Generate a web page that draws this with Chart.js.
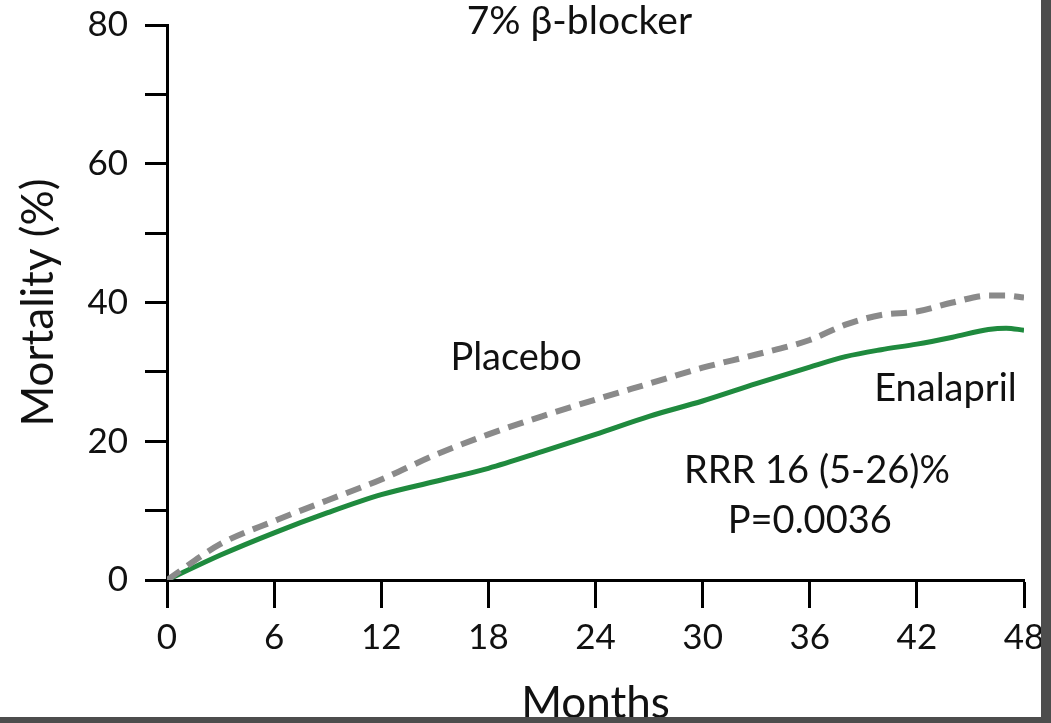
<!DOCTYPE html>
<html>
<head>
<meta charset="utf-8">
<script src="https://cdn.jsdelivr.net/npm/chart.js@4/dist/chart.umd.min.js"></script>
<style>
  html, body { margin: 0; padding: 0; background: #4d4d4d; width: 1051px; height: 723px; overflow: hidden; }
  #wrap { position: absolute; left: 0; top: 0; width: 1041px; height: 717px; background: #ffffff; overflow: hidden; }
  canvas { display: block; }
</style>
</head>
<body>
<div id="wrap"><canvas id="c" width="1048" height="723"></canvas></div>
<script>
const months = [0, 3, 6, 9, 12, 15, 18, 21, 24, 27, 30, 33, 36, 38, 40, 42, 44, 46, 47, 48];
const placebo = [0, 5.2, 8.5, 11.5, 14.5, 18.0, 21.0, 23.6, 26.0, 28.3, 30.6, 32.5, 34.6, 36.8, 38.2, 38.7, 40.0, 41.0, 41.0, 40.7];
const enalapril = [0, 3.6, 6.8, 9.7, 12.3, 14.2, 16.1, 18.5, 21.0, 23.6, 25.8, 28.3, 30.7, 32.2, 33.2, 34.0, 35.0, 36.1, 36.3, 36.0];
const xTicks = [0, 6, 12, 18, 24, 30, 36, 42, 48];
const yTicks = [0, 10, 20, 30, 40, 50, 60, 70, 80];
const yLabelled = [0, 20, 40, 60, 80];
const titleText = '7% β-blocker';
const notes = [
  { text: 'Placebo', x: 19.55, y: 32.1 },
  { text: 'Enalapril', x: 43.6, y: 27.6 },
  { text: 'RRR 16 (5-26)%', x: 36.4, y: 15.8 },
  { text: 'P=0.0036', x: 36.0, y: 8.6 }
];
const FONT = 'Lato, "Open Sans", sans-serif';

const textPlugin = {
  id: 'notes',
  afterDraw(chart) {
    const ctx = chart.ctx;
    const xs = chart.scales.x, ys = chart.scales.y;
    ctx.save();
    ctx.fillStyle = '#111';
    ctx.textAlign = 'center';
    ctx.textBaseline = 'middle';
    ctx.font = '38px ' + FONT;
    notes.forEach(n => ctx.fillText(n.text, xs.getPixelForValue(n.x), ys.getPixelForValue(n.y)));
    ctx.font = '39px ' + FONT;
    ctx.fillText(titleText, xs.getPixelForValue(23.1), 21);
    ctx.restore();
  }
};

new Chart(document.getElementById('c'), {
  type: 'line',
  data: {
    datasets: [
      {
        label: 'Placebo',
        data: months.map((m, i) => ({ x: m, y: placebo[i] })),
        borderColor: '#8a8a8a',
        borderWidth: 6,
        borderDash: [16, 9],
        pointRadius: 0,
        cubicInterpolationMode: 'monotone',
        fill: false
      },
      {
        label: 'Enalapril',
        data: months.map((m, i) => ({ x: m, y: enalapril[i] })),
        borderColor: '#1f8a3e',
        borderWidth: 5,
        pointRadius: 0,
        cubicInterpolationMode: 'monotone',
        fill: false
      }
    ]
  },
  options: {
    responsive: false,
    animation: false,
    events: [],
    layout: { padding: { top: 25, right: 24, left: 0, bottom: 0 } },
    plugins: { legend: { display: false }, tooltip: { enabled: false }, title: { display: false } },
    scales: {
      x: {
        type: 'linear',
        min: 0, max: 48,
        afterBuildTicks: s => { s.ticks = xTicks.map(v => ({ value: v })); },
        afterFit: s => { s.height = 143; s.paddingLeft = 0; s.paddingRight = 0; },
        grid: { drawOnChartArea: false, drawTicks: true, tickLength: 28, tickWidth: 3, tickColor: '#000' },
        border: { display: true, color: '#000', width: 3 },
        ticks: { color: '#111', font: { family: FONT, size: 35 }, padding: 9, maxRotation: 0, autoSkip: false },
        title: { display: true, text: 'Months', color: '#111', font: { family: FONT, size: 44 }, padding: { top: 0, bottom: -7 } }
      },
      y: {
        type: 'linear',
        min: 0, max: 80,
        afterBuildTicks: s => { s.ticks = yTicks.map(v => ({ value: v })); },
        afterFit: s => { s.width = 167; s.paddingTop = 0; s.paddingBottom = 0; },
        grid: { drawOnChartArea: false, drawTicks: true, tickLength: 22, tickWidth: 3, tickColor: '#000' },
        border: { display: true, color: '#000', width: 3 },
        ticks: {
          color: '#111', font: { family: FONT, size: 35 }, padding: 17, autoSkip: false,
          callback: v => yLabelled.includes(v) ? String(v) : ''
        },
        title: { display: true, text: 'Mortality (%)', color: '#111', font: { family: FONT, size: 44 }, padding: { top: 12, bottom: 0 } }
      }
    }
  },
  plugins: [textPlugin]
});
</script>
</body>
</html>
